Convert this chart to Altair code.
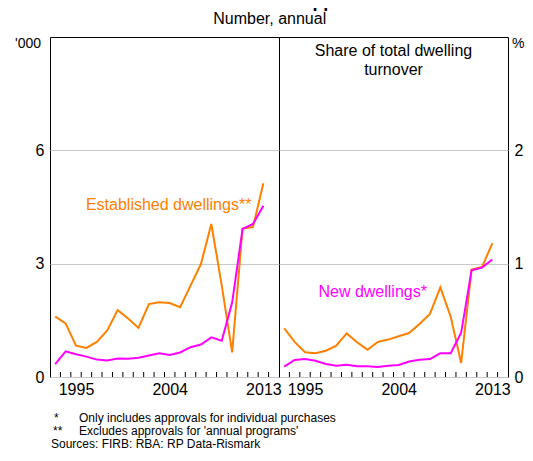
import altair as alt
import pandas as pd

years = list(range(1993, 2014))
est_num = [1.60, 1.42, 0.83, 0.77, 0.93, 1.23, 1.77, 1.55, 1.30, 1.93, 1.98, 1.96, 1.85,
           2.42, 2.99, 4.05, 2.42, 0.65, 3.93, 3.97, 5.13]
new_num = [0.34, 0.68, 0.60, 0.54, 0.46, 0.44, 0.49, 0.48, 0.51, 0.57, 0.63, 0.58, 0.65,
           0.79, 0.86, 1.05, 0.96, 1.97, 3.92, 4.05, 4.53]
est_share = [0.43, 0.31, 0.218, 0.21, 0.232, 0.276, 0.385, 0.306, 0.241, 0.31, 0.33, 0.36, 0.388,
             0.468, 0.556, 0.79, 0.53, 0.124, 0.947, 0.97, 1.18]
new_share = [0.091, 0.15, 0.158, 0.144, 0.115, 0.10, 0.108, 0.094, 0.094, 0.088, 0.10, 0.106, 0.137,
             0.153, 0.158, 0.209, 0.209, 0.39, 0.942, 0.965, 1.037]

series_names = ["Established", "New"]
colors = ["#ff8000", "#ff00ff"]
year_ticks_labels = [1995, 2004, 2013]
left_ticks = [0, 3, 6]
right_ticks = [0, 1, 2]
tick_bounds = [y + 0.5 for y in years]

footnote_1 = ["*", "Only includes approvals for individual purchases"]
footnote_2 = ["**", "Excludes approvals for 'annual programs'"]
sources = "Sources: FIRB: RBA: RP Data-Rismark"

W, H = 229, 340
FONT = "Liberation Sans"

num_df = pd.DataFrame({"year": years * 2, "value": est_num + new_num,
                       "series": ["Established"] * 21 + ["New"] * 21})
share_df = pd.DataFrame({"year": years * 2, "value": est_share + new_share,
                         "series": ["Established"] * 21 + ["New"] * 21})
ticks_df = pd.DataFrame({"year": tick_bounds})

xscale = alt.Scale(domain=[1992.5, 2014.5], nice=False, zero=False)
xaxis = alt.Axis(values=year_ticks_labels, ticks=False, domain=False, grid=False,
                 labelFontSize=16, labelPadding=4, title=None, format="d",
                 labelColor="black", labelFlush=False)
XENC = alt.X("year:Q", scale=xscale, axis=xaxis)
color = alt.Color("series:N", scale=alt.Scale(domain=series_names, range=colors), legend=None)


def txt(text, x, y, size=16, align="left", baseline="middle", col="black"):
    return alt.Chart(pd.DataFrame({"t": [text]})).mark_text(
        font=FONT, fontSize=size, align=align, baseline=baseline, color=col, lineHeight=19
    ).encode(x=alt.value(x), y=alt.value(y), text="t")


def panel(df, ydomain, yvals, orient, unit, label_text, label_x, label_y, label_color,
          extra=None):
    yscale = alt.Scale(domain=ydomain, nice=False)
    yaxis = alt.Axis(values=yvals, grid=True, gridColor="#c8c8c8", ticks=False, domain=False,
                     labelFontSize=16, labelPadding=6, title=None, orient=orient,
                     labelColor="black", format="d")
    YENC = alt.Y("value:Q", scale=yscale, axis=yaxis)
    lines = alt.Chart(df).mark_line(strokeWidth=2).encode(x=XENC, y=YENC, color=color)
    ticks = alt.Chart(ticks_df).mark_rule(color="black", strokeWidth=1).encode(
        x=XENC, y=alt.value(H - 5), y2=alt.value(H),
    )
    lab = alt.Chart(pd.DataFrame({"year": [label_x], "value": [label_y], "t": [label_text]})).mark_text(
        font=FONT, fontSize=16, color=label_color, align="center", baseline="middle"
    ).encode(x=XENC, y=YENC, text="t:N")
    if orient == "left":
        u = txt(unit, -9, 7, size=14, align="right")
    else:
        u = txt(unit, W + 4, 7, size=14, align="left")
    layers = [lines, ticks, lab, u]
    if extra is not None:
        layers += extra
    return alt.layer(*layers).properties(
        width=W, height=H, view=alt.ViewBackground(stroke="black", strokeWidth=1))


share_title = txt(["Share of total dwelling", "turnover"], W / 2, 6, align="center", baseline="top")

foot = [
    txt(footnote_1[0], 4, 380.5, size=12),
    txt(footnote_1[1], 29, 380.5, size=12),
    txt(footnote_2[0], 3, 394, size=12),
    txt(footnote_2[1], 29, 394, size=12),
    txt(sources, 1, 407, size=12),
]

left = panel(num_df, [0, 9], left_ticks, "left", "'000", "Established dwellings**",
             2003.9, 4.55, colors[0], extra=foot)
right = panel(share_df, [0, 3], right_ticks, "right", "%", "New dwellings*",
              2001.5, 0.753, colors[1], extra=[share_title])

chart = alt.hconcat(left, right, spacing=0, bounds="flush").properties(
    title=alt.TitleParams("FIRB Residential Approvals", subtitle="Number, annual",
                          fontSize=18, fontWeight="bold", subtitleFontSize=16,
                          font=FONT, subtitleFont=FONT, anchor="middle",
                          subtitleColor="black", color="black", offset=10, subtitlePadding=0),
    padding={"top": -16, "left": 6, "right": 0, "bottom": -1},
).configure_view(stroke="black", strokeWidth=1).configure(font=FONT)

chart.save("out.html", embed_options={"renderer": "svg", "actions": False})
